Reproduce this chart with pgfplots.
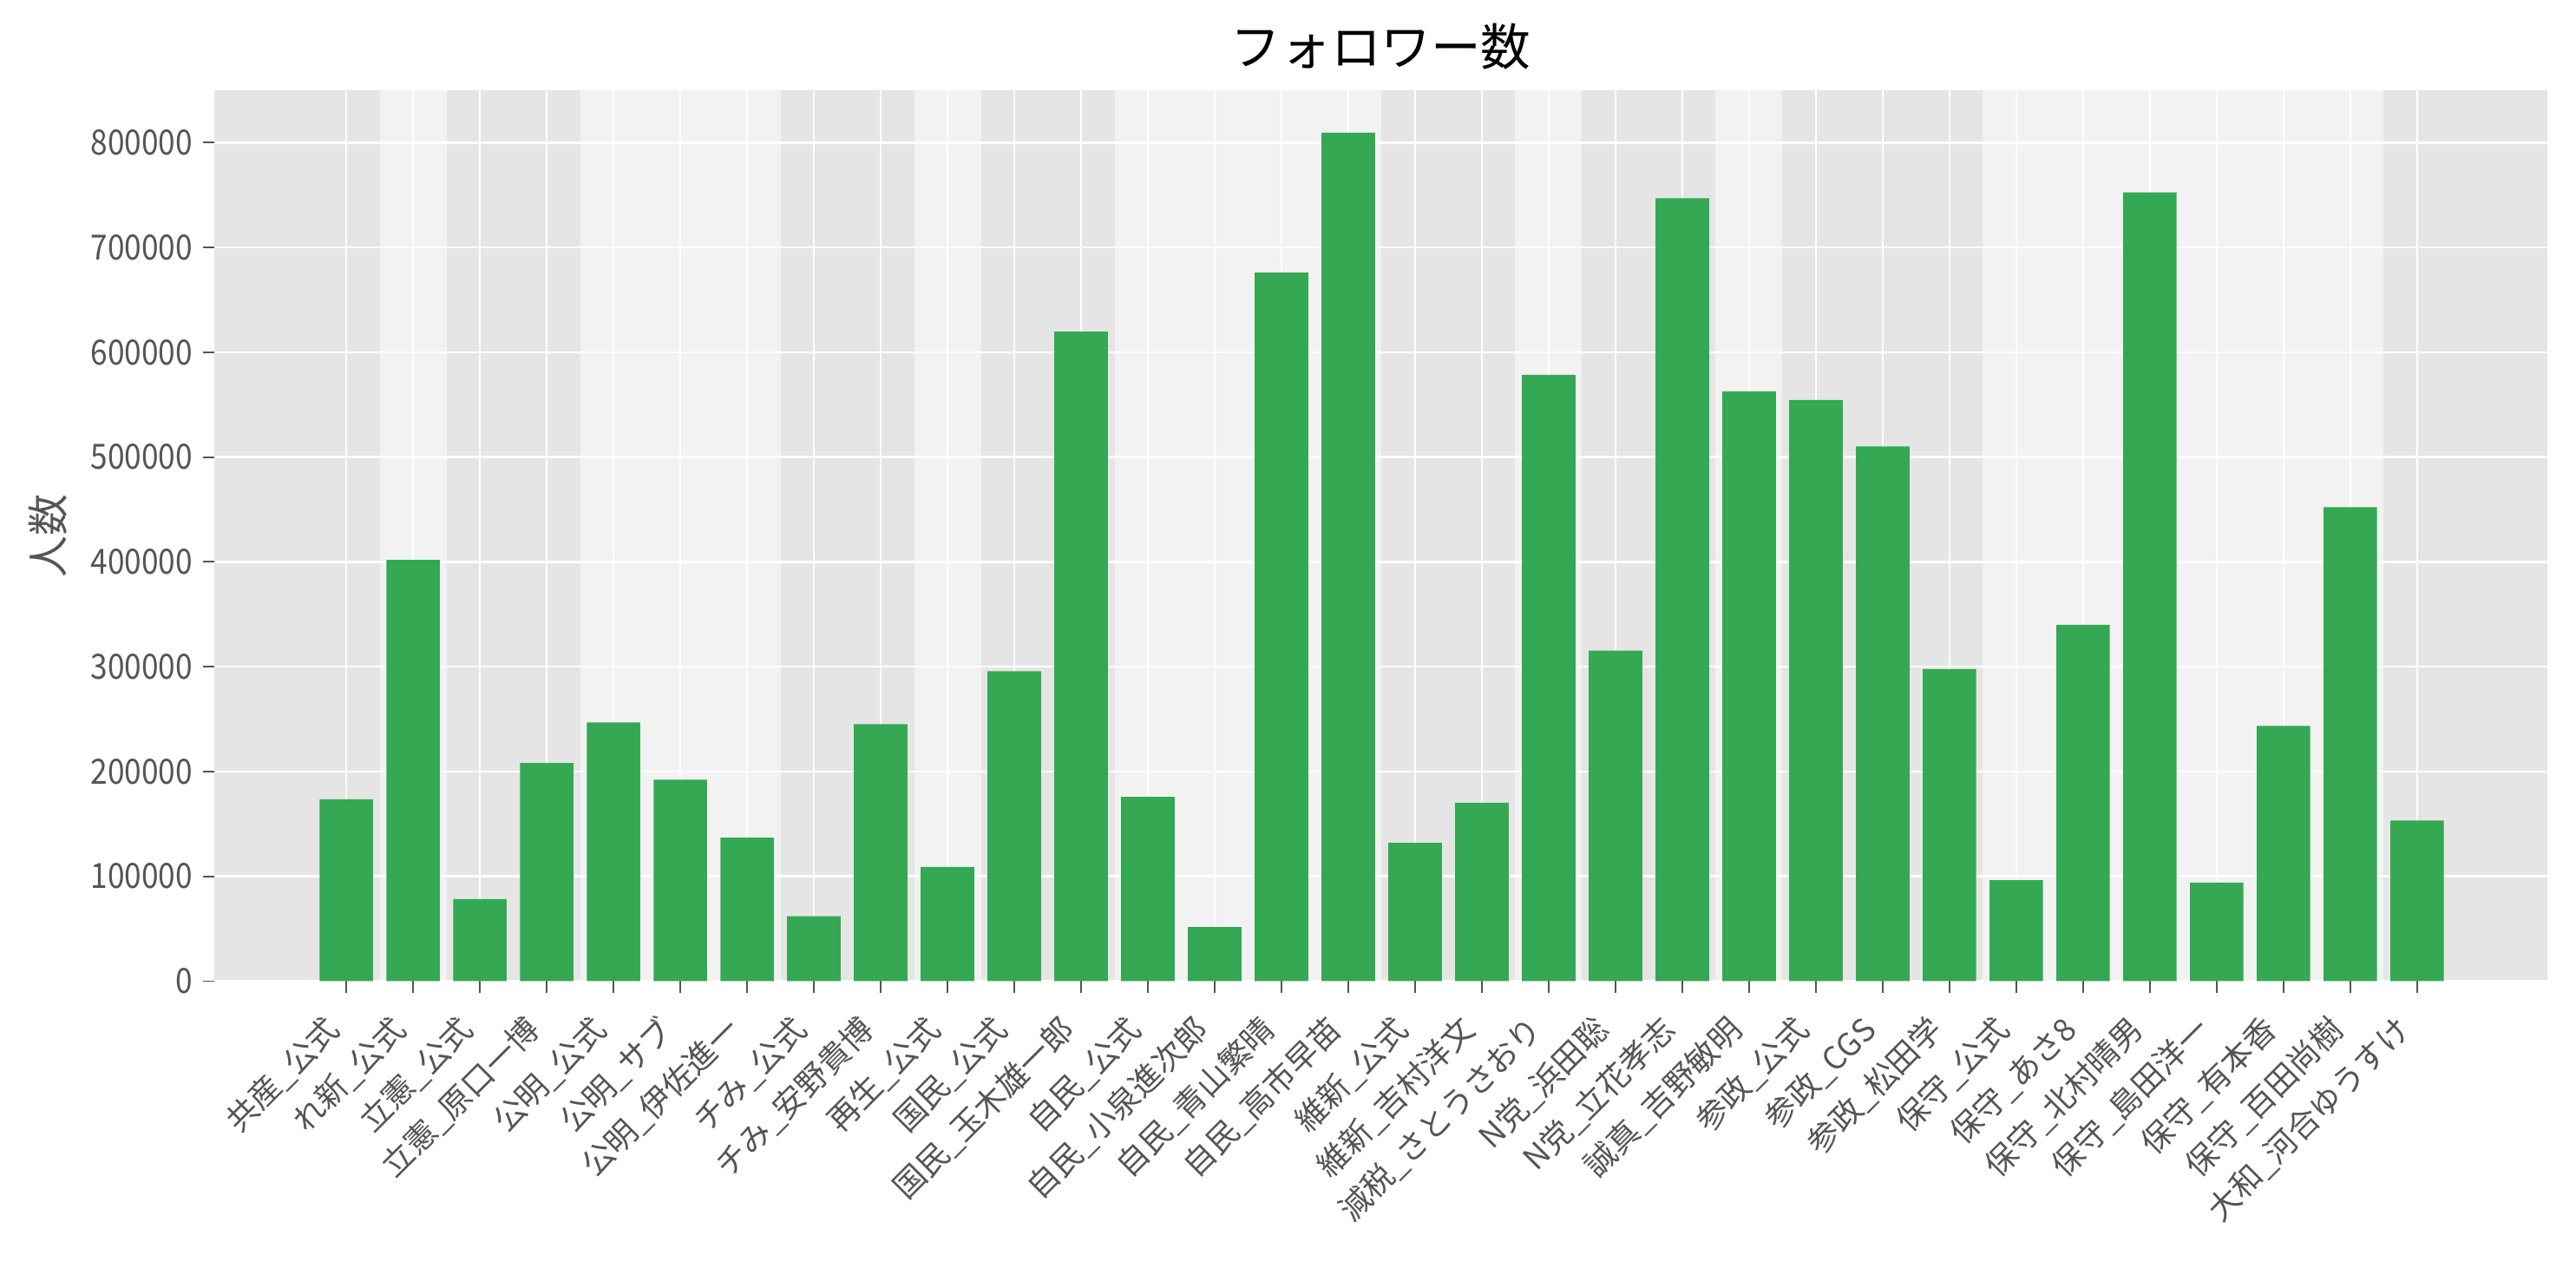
\documentclass[border=0pt]{standalone}
\usepackage{fontspec}
\setmainfont{Noto Sans CJK JP}
\usepackage{pgfplots}
\pgfplotsset{compat=1.18}
\definecolor{barG}{RGB}{52,168,83}
\definecolor{bgDark}{HTML}{E5E5E5}
\definecolor{bgLight}{HTML}{F2F2F2}
\definecolor{tickG}{HTML}{555555}
\begin{document}
\begin{tikzpicture}
\begin{axis}[name=ax,
    set layers,
    scale only axis,
    width=672.15pt, height=256.6pt,
    xmin=-1.97, xmax=32.95,
    ymin=0, ymax=850000,
    axis background/.style={fill=bgDark},
    axis line style={draw=none},
    grid=major,
    major grid style={white, line width=0.6pt},
    tick align=outside,
    xtick pos=bottom, ytick pos=left,
    major tick length=3.3pt,
    tick style={tickG, line width=0.45pt},
    xtick={0,...,31},
    ytick={0,100000,...,800000},
    scaled y ticks=false,
    /pgf/number format/fixed,
    /pgf/number format/precision=0,
    /pgf/number format/assume math mode=true,
    /pgf/number format/set thousands separator={},
    yticklabel style={font=\fontsize{10}{12}\selectfont, text=tickG, xscale=0.88},
    xticklabel style={font=\fontsize{9.1}{11}\selectfont, text=tickG,
        xshift=-3.5pt, yshift=-9pt, rotate=45, anchor=east, inner sep=0pt},
    xticklabels={共産\_公式, れ新\_公式, 立憲\_公式, 立憲\_原口一博, 公明\_公式,
        公明\_サブ, 公明\_伊佐進一, チみ\_公式, チみ\_安野貴博, 再生\_公式,
        国民\_公式, 国民\_玉木雄一郎, 自民\_公式, 自民\_小泉進次郎, 自民\_青山繁晴,
        自民\_高市早苗, 維新\_公式, 維新\_吉村洋文, 減税\_さとうさおり, N党\_浜田聡,
        N党\_立花孝志, 誠真\_吉野敏明, 参政\_公式, 参政\_CGS, 参政\_松田学,
        保守\_公式, 保守\_あさ8, 保守\_北村晴男, 保守\_島田洋一, 保守\_有本香,
        保守\_百田尚樹, 大和\_河合ゆうすけ},
    title={フォロワー数},
    title style={font=\fontsize{14.4}{16}\selectfont, at={(axis description cs:0.5,1)},
        anchor=center, yshift=6.5pt},
    ylabel={人数},
    every axis y label/.style={at={(axis description cs:0,0.5)}, xshift=-47.9pt,
        rotate=90, anchor=center, font=\fontsize{12}{14}\selectfont, text=tickG},
]
% party bands (lighter shade)
\addplot[fill=bgLight, draw=none, on layer=axis background] coordinates {(0.5,0) (0.5,850000) (1.5,850000) (1.5,0)} -- cycle;
\addplot[fill=bgLight, draw=none, on layer=axis background] coordinates {(3.5,0) (3.5,850000) (6.5,850000) (6.5,0)} -- cycle;
\addplot[fill=bgLight, draw=none, on layer=axis background] coordinates {(8.5,0) (8.5,850000) (9.5,850000) (9.5,0)} -- cycle;
\addplot[fill=bgLight, draw=none, on layer=axis background] coordinates {(11.5,0) (11.5,850000) (15.5,850000) (15.5,0)} -- cycle;
\addplot[fill=bgLight, draw=none, on layer=axis background] coordinates {(17.5,0) (17.5,850000) (18.5,850000) (18.5,0)} -- cycle;
\addplot[fill=bgLight, draw=none, on layer=axis background] coordinates {(20.5,0) (20.5,850000) (21.5,850000) (21.5,0)} -- cycle;
\addplot[fill=bgLight, draw=none, on layer=axis background] coordinates {(24.5,0) (24.5,850000) (30.5,850000) (30.5,0)} -- cycle;
% followers
\addplot[ybar, bar width=0.8, bar shift=0pt, fill=barG, draw=none] coordinates {
    (0,173500) (1,401800) (2,78300) (3,208000) (4,246900) (5,192100)
    (6,136800) (7,61900) (8,245200) (9,108900) (10,295600) (11,619600)
    (12,175700) (13,51500) (14,676000) (15,809500) (16,131900) (17,170200)
    (18,578500) (19,315300) (20,747100) (21,562700) (22,554500) (23,510100)
    (24,297800) (25,96300) (26,339900) (27,752600) (28,94100) (29,243600)
    (30,452100) (31,153300)
};
\end{axis}
\pgfresetboundingbox
\path[use as bounding box] ([xshift=-61.85pt,yshift=-84.4pt]ax.south west) rectangle ([xshift=8.25pt,yshift=26pt]ax.north east);
\end{tikzpicture}
\end{document}
